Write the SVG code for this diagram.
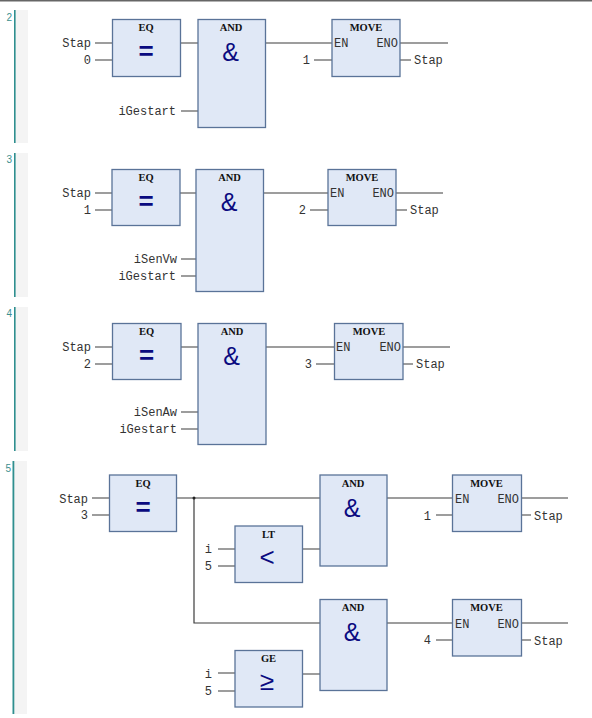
<svg xmlns="http://www.w3.org/2000/svg" width="592" height="718" viewBox="0 0 592 718">
<style>
.b{fill:#e0e8f6;stroke:#5a7398;stroke-width:1.3}
.w{stroke:#3c3c3c;stroke-width:1.2;fill:none}
.t{font-family:"Liberation Serif",serif;font-weight:bold;font-size:10.5px;fill:#111;text-anchor:middle}
.m{font-family:"Liberation Mono",monospace;font-size:12px;fill:#333}
.e{text-anchor:end}
.s{font-family:"Liberation Sans",sans-serif;fill:#0a0a80;text-anchor:middle}
.q{font-size:26px;font-weight:bold}
.a{font-size:25px}
.n{font-family:"Liberation Sans",sans-serif;font-size:10px;fill:#3c8f8f;text-anchor:end}
.g{fill:#f4f4f4}
.r{fill:#2f8f8f}
</style>
<rect width="592" height="718" fill="#fff"/>
<rect width="592" height="1.5" fill="#666"/>
<g id="rungs">
<rect class="g" x="15" y="10" width="13" height="133"/><rect class="r" x="14" y="10" width="1.6" height="133"/>
<rect class="g" x="15" y="153" width="13" height="144"/><rect class="r" x="14" y="153" width="1.6" height="144"/>
<rect class="g" x="15" y="307" width="13" height="144"/><rect class="r" x="14" y="307" width="1.6" height="144"/>
<rect class="g" x="14" y="461" width="13" height="253"/><rect class="r" x="12.500" y="461" width="1.8" height="253"/>
<text class="n" x="12" y="21">2</text><text class="n" x="12" y="163">3</text><text class="n" x="12" y="317">4</text><text class="n" x="11" y="472">5</text>
</g>
<g id="connectors">
<path class="w" d="M95 43H112M95 60H112M180 43H198M181 111H198M265 43H332M314 60H332M400 43H448M400 60H411"/>
<path class="w" d="M95 193H112M95 210H112M180 193H196M181 259H196M181 276H196M263 193H328M310 210H328M396 193H443M396 210H407"/>
<path class="w" d="M95 347H112M95 364H112M181 347H198M181 412H198M181 429H198M266 347H334M316 364H334M403 347H450M403 364H413"/>
<path class="w" d="M92 498H109M92 515H109M176 498H320M218 549H235M218 566H235M302 549H320M387 498H452M436 515H452M521 498H568M521 515H531"/>
<path class="w" d="M194 498V623H320M218 673H235M218 691H235M302 674H320M387 623H452M436 640H452M521 623H568M521 640H531"/>
<circle cx="194" cy="498" r="1.500" fill="#222"/>
</g>
<g id="n2-eq"><rect class="b" x="112.500" y="19.500" width="68" height="57"/><text class="t" x="146" y="31">EQ</text><text class="s q" x="146" y="60">=</text><text class="m e" x="91" y="47">Stap</text><text class="m e" x="91" y="64">0</text></g>
<g id="n2-and"><rect class="b" x="198" y="19.500" width="67.500" height="108"/><text class="t" x="231" y="31">AND</text><text class="s a" x="230.500" y="61">&amp;</text><text class="m e" x="176" y="115">iGestart</text></g>
<g id="n2-move"><rect class="b" x="332" y="19.500" width="68" height="57"/><text class="t" x="366" y="31">MOVE</text><text class="m" x="334" y="47">EN</text><text class="m e" x="398" y="47">ENO</text><text class="m e" x="310" y="64">1</text><text class="m" x="414" y="64">Stap</text></g>
<g id="n3-eq"><rect class="b" x="112" y="169.500" width="68" height="56"/><text class="t" x="146" y="181">EQ</text><text class="s q" x="146" y="210">=</text><text class="m e" x="91" y="197">Stap</text><text class="m e" x="91" y="214">1</text></g>
<g id="n3-and"><rect class="b" x="196" y="169.500" width="67.500" height="122"/><text class="t" x="229.500" y="181">AND</text><text class="s a" x="229" y="211">&amp;</text><text class="m e" x="177" y="263">iSenVw</text><text class="m e" x="176" y="280">iGestart</text></g>
<g id="n3-move"><rect class="b" x="328" y="169.500" width="68" height="56"/><text class="t" x="362" y="181">MOVE</text><text class="m" x="330" y="197">EN</text><text class="m e" x="394" y="197">ENO</text><text class="m e" x="306" y="214">2</text><text class="m" x="410" y="214">Stap</text></g>
<g id="n4-eq"><rect class="b" x="112.500" y="323.500" width="68.500" height="56"/><text class="t" x="146.500" y="335">EQ</text><text class="s q" x="146.500" y="364">=</text><text class="m e" x="91" y="351">Stap</text><text class="m e" x="91" y="368">2</text></g>
<g id="n4-and"><rect class="b" x="198" y="323.500" width="68" height="121"/><text class="t" x="232" y="335">AND</text><text class="s a" x="231.500" y="365">&amp;</text><text class="m e" x="177" y="416">iSenAw</text><text class="m e" x="177" y="433">iGestart</text></g>
<g id="n4-move"><rect class="b" x="334.500" y="323.500" width="68.500" height="56"/><text class="t" x="369" y="335">MOVE</text><text class="m" x="336" y="351">EN</text><text class="m e" x="401" y="351">ENO</text><text class="m e" x="312" y="368">3</text><text class="m" x="416" y="368">Stap</text></g>
<g id="n5-eq"><rect class="b" x="109.500" y="475" width="67" height="56.500"/><text class="t" x="143" y="487">EQ</text><text class="s q" x="143" y="516">=</text><text class="m e" x="88" y="503">Stap</text><text class="m e" x="88" y="519">3</text></g>
<g id="n5-lt"><rect class="b" x="235" y="526" width="67.500" height="56.500"/><text class="t" x="268.500" y="538">LT</text><text class="s" x="267" y="566" font-size="26">&lt;</text><text class="m e" x="212" y="553">i</text><text class="m e" x="212" y="570">5</text></g>
<g id="n5-and1"><rect class="b" x="320" y="475" width="67" height="91"/><text class="t" x="353" y="487">AND</text><text class="s a" x="352" y="517">&amp;</text></g>
<g id="n5-move1"><rect class="b" x="452.500" y="475" width="69" height="56.500"/><text class="t" x="486.500" y="487">MOVE</text><text class="m" x="455" y="503">EN</text><text class="m e" x="519" y="503">ENO</text><text class="m e" x="431" y="520">1</text><text class="m" x="534" y="520">Stap</text></g>
<g id="n5-ge"><rect class="b" x="235" y="650.500" width="67.500" height="56.500"/><text class="t" x="268.500" y="662">GE</text><text class="s" x="267" y="690" font-size="26">≥</text><text class="m e" x="212" y="678">i</text><text class="m e" x="212" y="695">5</text></g>
<g id="n5-and2"><rect class="b" x="320" y="599.500" width="67" height="91"/><text class="t" x="353" y="611">AND</text><text class="s a" x="352" y="641">&amp;</text></g>
<g id="n5-move2"><rect class="b" x="452.500" y="599.500" width="69" height="56.500"/><text class="t" x="486.500" y="611">MOVE</text><text class="m" x="455" y="628">EN</text><text class="m e" x="519" y="628">ENO</text><text class="m e" x="431" y="644">4</text><text class="m" x="534" y="645">Stap</text></g>
</svg>
